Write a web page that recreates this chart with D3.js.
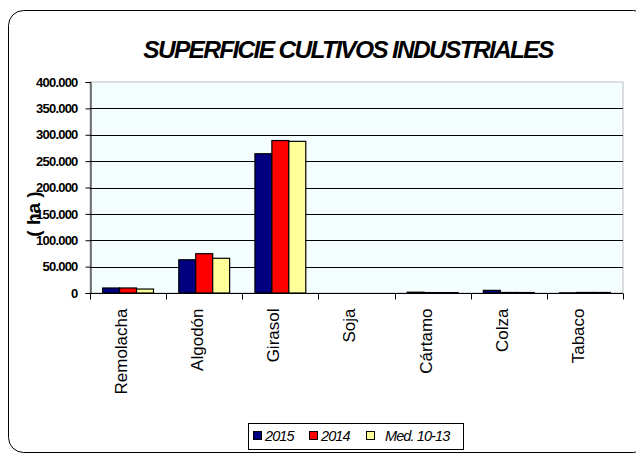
<!DOCTYPE html>
<html><head><meta charset="utf-8">
<script src="https://cdn.jsdelivr.net/npm/d3@7"></script>
<style>body{margin:0;background:#fff}svg{display:block}text{font-family:Arial,"Liberation Sans",sans-serif}</style>
</head><body><svg id="c" width="636" height="454"></svg>
<script>
const categories = ["Remolacha","Algodón","Girasol","Soja","Cártamo","Colza","Tabaco"];
const seriesNames = ["2015","2014","Med. 10-13"];
const values2015 = [9500, 63000, 264000, 0, 1500, 5000, 300];
const values2014 = [9500, 74500, 289000, 0, 800, 1000, 1000];
const valuesMed = [7500, 65800, 287500, 0, 800, 900, 1000];
const colors = ["#000080","#FF0000","#FFFF99"];
const yTicks = [0,50000,100000,150000,200000,250000,300000,350000,400000];
const title = "SUPERFICIE CULTIVOS INDUSTRIALES";
const yTitle = "( ha )";

const svg = d3.select("#c");
const L=90,R=623,T=82,B=293;
// frame
svg.append("rect").attr("x",8.5).attr("y",10.5).attr("width",640).attr("height",442).attr("rx",15)
  .attr("fill","#fff").attr("stroke","#000").attr("stroke-width",1);

svg.append("text").attr("x",348).attr("y",58).attr("text-anchor","middle")
  .attr("font-size",24.5).attr("font-weight","bold").attr("font-style","italic")
  .attr("letter-spacing",-1.7).text(title);

const y = d3.scaleLinear().domain([0,400000]).range([B,T]);
const x0 = d3.scaleBand().domain(categories).range([L,R]);
const bw = x0.bandwidth();
const x1 = d3.scaleBand().domain(seriesNames).range([bw*0.166,bw*0.834]);

svg.append("rect").attr("x",L).attr("y",T).attr("width",R-L).attr("height",B-T)
  .attr("fill","#F4FEFE").attr("stroke","#BDBDBD");

// gridlines
svg.append("g").selectAll("line").data(yTicks.filter(d=>d>0&&d<400000)).join("line")
  .attr("x1",L).attr("x2",R).attr("y1",d=>Math.round(y(d))+0.5).attr("y2",d=>Math.round(y(d))+0.5)
  .attr("stroke","#000");

const fmt = d=> d===0 ? "0" : d3.format(",")(d).replace(/,/g,".");
const yAxis = d3.axisLeft(y).tickValues(yTicks).tickFormat(fmt).tickSize(5).tickPadding(8);
const ga = svg.append("g").attr("transform",`translate(${L+0.5},0)`).call(yAxis);
ga.select(".domain").attr("stroke","#000");
ga.selectAll("text").attr("font-size",13).attr("font-weight","bold").attr("letter-spacing",-0.8).attr("fill","#000");

const data = [values2015, values2014, valuesMed];
const g = svg.append("g");
categories.forEach((c,i)=>{
  seriesNames.forEach((s,j)=>{
    const v = data[j][i];
    if (v<=0) return;
    g.append("rect").attr("x",x0(c)+x1(s)).attr("y",y(v)).attr("width",x1.bandwidth())
      .attr("height",B-y(v)).attr("fill",colors[j]).attr("stroke","#000").attr("stroke-width",1.2);
  });
});

// x axis
const xa = svg.append("g").attr("transform",`translate(0,${B+0.5})`);
xa.append("line").attr("x1",L).attr("x2",R).attr("stroke","#000");
const bounds = categories.map(c=>x0(c)).concat([R]);
xa.selectAll("line.t").data(bounds).join("line").attr("class","t")
  .attr("x1",d=>Math.round(d)+0.5).attr("x2",d=>Math.round(d)+0.5).attr("y1",0).attr("y2",6).attr("stroke","#000");
xa.selectAll("text").data(categories).join("text")
  .attr("transform",d=>`translate(${x0(d)+bw/2-7},15) rotate(-90)`)
  .attr("text-anchor","end").attr("dy","0.35em").attr("font-size",17).text(d=>d);

// y title
svg.append("text").attr("transform","translate(40,214) rotate(-90)").attr("text-anchor","middle")
  .attr("font-size",19).attr("font-weight","bold").text(yTitle);

// legend
const lg = svg.append("g");
lg.append("rect").attr("x",248.5).attr("y",423.5).attr("width",215).attr("height",26).attr("fill","#fff").attr("stroke","#000");
const lx = [253, 309, 366];
const tx = [265, 321, 385];
seriesNames.forEach((s,j)=>{
  lg.append("rect").attr("x",lx[j]+0.5).attr("y",431.5).attr("width",8).attr("height",8).attr("fill",colors[j]).attr("stroke","#000");
  lg.append("text").attr("x",tx[j]).attr("y",441).attr("font-size",14.5).attr("font-style","italic").attr("letter-spacing",-0.9).text(s);
});
</script></body></html>
